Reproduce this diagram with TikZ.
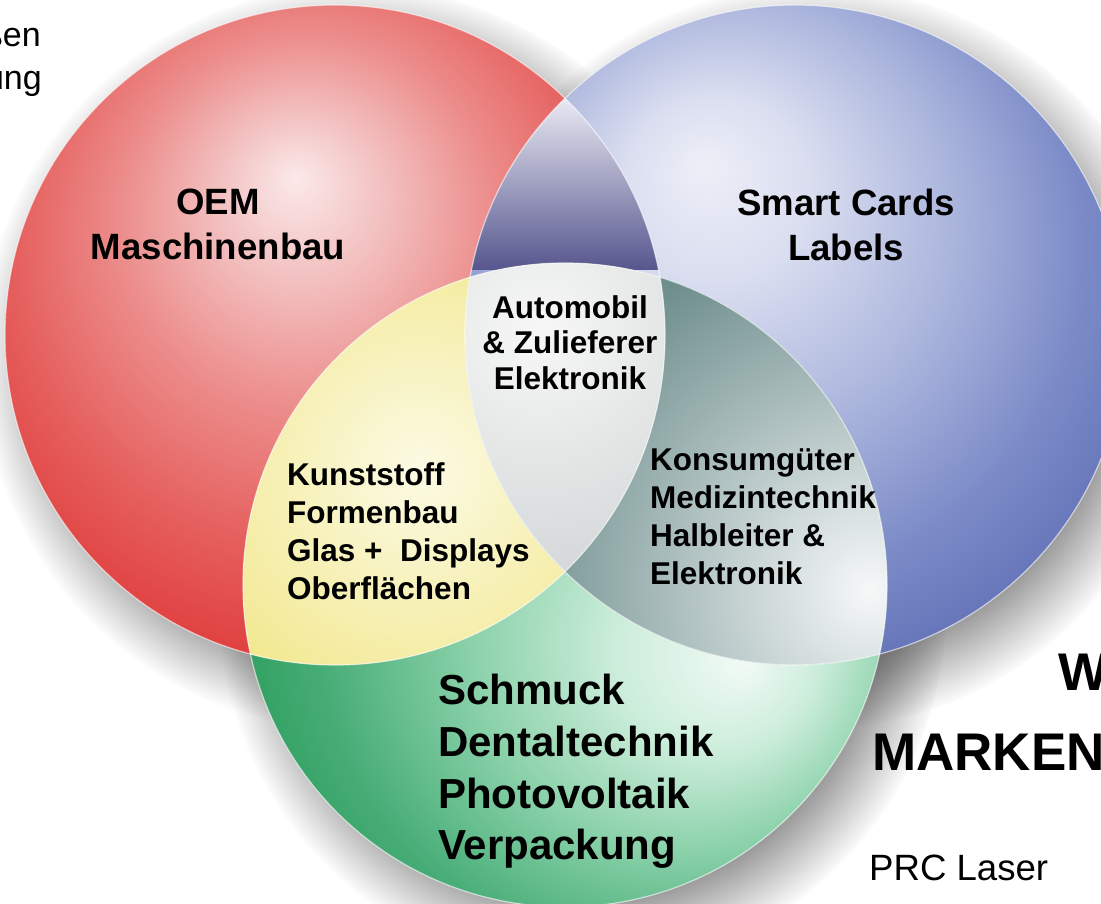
\documentclass[tikz,border=0pt]{standalone}
\usepackage{fontspec}
\setmainfont{Liberation Sans}
\usetikzlibrary{fadings}

\newcommand{\ringradius}{330pt}
\newcommand{\greenradius}{322pt}

% circle colours
\definecolor{redhi}{HTML}{FBE9E9}
\definecolor{redpale}{HTML}{F3C2C2}
\definecolor{redmid}{HTML}{EC8E8C}
\definecolor{reddeep}{HTML}{E55E5C}
\definecolor{redrim}{HTML}{DE3636}
\definecolor{bluehi}{HTML}{EDEFF7}
\definecolor{bluepale}{HTML}{DADEF0}
\definecolor{bluemid}{HTML}{AEB8DE}
\definecolor{bluedeep}{HTML}{7D8CC8}
\definecolor{bluerim}{HTML}{5566AE}
\definecolor{greenhi}{HTML}{F2FAF6}
\definecolor{greenpale}{HTML}{CBEDDA}
\definecolor{greenmid}{HTML}{88D0A8}
\definecolor{greendeep}{HTML}{46AC76}
\definecolor{greenrim}{HTML}{1A9448}
% overlap colours
\definecolor{lenstop}{HTML}{F0F0F8}
\definecolor{lensmid}{HTML}{A8A8D0}
\definecolor{lensbottom}{HTML}{56568E}
\definecolor{yellowin}{HTML}{FCFAE4}
\definecolor{yellowout}{HTML}{F2E88E}
\definecolor{tealin}{HTML}{F6F8F8}
\definecolor{tealout}{HTML}{6F8F8E}
\definecolor{corein}{HTML}{F7F7F7}
\definecolor{coreout}{HTML}{CDD2D2}

\pgfdeclareradialshading{redball}{\pgfpoint{-3bp}{12bp}}{%
  color(0bp)=(redhi); color(6bp)=(redpale); color(14bp)=(redmid);
  color(23bp)=(reddeep); color(32bp)=(redrim); color(50bp)=(redrim)}
\pgfdeclareradialshading{blueball}{\pgfpoint{-7bp}{13bp}}{%
  color(0bp)=(bluehi); color(7bp)=(bluepale); color(16bp)=(bluemid);
  color(25bp)=(bluedeep); color(35bp)=(bluerim); color(50bp)=(bluerim)}
\pgfdeclareradialshading{greenball}{\pgfpoint{14bp}{-6bp}}{%
  color(0bp)=(greenhi); color(8bp)=(greenpale); color(17bp)=(greenmid);
  color(26bp)=(greendeep); color(36bp)=(greenrim); color(50bp)=(greenrim)}

\tikzstyle{dropshadow} = [% soft shadow under a circle
  fill=black!80,
  fill opacity=0.5,
  path fading=circle with fuzzy edge 20 percent
  ]
\tikzstyle{seam} = [% light rim between the areas
  draw=white,
  line width=1.2pt,
  draw opacity=0.6
  ]
\tikzstyle{titletext} = [% circle titles
  font=\bfseries\fontsize{36.6}{45}\selectfont,
  align=center,
  inner sep=0pt,
  anchor=north
  ]
\tikzstyle{coretext} = [% centre area
  font=\bfseries\fontsize{31.5}{35.5}\selectfont,
  align=center,
  inner sep=0pt,
  anchor=north
  ]
\tikzstyle{overlaptext} = [% two-circle areas
  font=\bfseries\fontsize{31.5}{38}\selectfont,
  align=left,
  inner sep=0pt,
  anchor=north west
  ]
\tikzstyle{greentext} = [% green circle list
  font=\bfseries\fontsize{42}{51.7}\selectfont,
  align=left,
  inner sep=0pt,
  anchor=north west
  ]
\tikzstyle{sidetext} = [% cut-off heading on the right
  font=\bfseries\fontsize{53}{64}\selectfont,
  inner sep=0pt,
  anchor=base west
  ]
\tikzstyle{plaintext} = [% regular text
  font=\fontsize{36.6}{43}\selectfont,
  inner sep=0pt
  ]
\tikzstyle{edgetext} = [% cut-off lines top left
  font=\fontsize{34}{43}\selectfont,
  inner sep=0pt,
  anchor=base east
  ]

\begin{document}
\begin{tikzpicture}[x=1pt, y=-1pt]

%%% Canvas
\useasboundingbox (0,0) rectangle (1101,904);
\clip (0,0) rectangle (1101,904);
\fill[white] (0,0) rectangle (1101,904);

\coordinate (redc) at (335,335);
\coordinate (bluec) at (795,335);
\coordinate (greenc) at (565,585);

%%% Shadows
\fill[dropshadow] ([shift={(18,22)}]redc) circle (372pt);
\fill[dropshadow] ([shift={(18,22)}]bluec) circle (372pt);
\fill[dropshadow] ([shift={(18,22)}]greenc) circle (364pt);

%%% Circles
\shade[shading=redball] (redc) circle (\ringradius);
\shade[shading=blueball] (bluec) circle (\ringradius);
\shade[shading=greenball] (greenc) circle (\greenradius);

%%% Overlaps
\begin{scope}
  \clip (redc) circle (\ringradius);
  \clip (bluec) circle (\ringradius);
  \shade[top color=lenstop, middle color=lensmid, bottom color=lensbottom] (460,90) rectangle (670,270);
\end{scope}
\begin{scope}
  \clip (redc) circle (\ringradius);
  \clip (greenc) circle (\greenradius);
  \fill[yellowout] (0,0) rectangle (1101,904);
  \shade[inner color=yellowin, outer color=yellowout] (420,470) circle (260pt);
\end{scope}
\begin{scope}
  \clip (bluec) circle (\ringradius);
  \clip (greenc) circle (\greenradius);
  \fill[tealout] (0,0) rectangle (1101,904);
  \shade[inner color=tealin, outer color=tealout] (870,590) circle (360pt);
\end{scope}
\begin{scope}
  \clip (redc) circle (\ringradius);
  \clip (bluec) circle (\ringradius);
  \clip (greenc) circle (\greenradius);
  \fill[coreout] (0,0) rectangle (1101,904);
  \shade[inner color=corein, outer color=coreout] (540,330) circle (290pt);
\end{scope}

\draw[seam] (redc) circle (\ringradius);
\draw[seam] (bluec) circle (\ringradius);
\draw[seam] (greenc) circle (\greenradius);

%%% Nodes
\node[titletext] (oem) at (218,189) {OEM\\Maschinenbau};
\node[titletext] (cards) at (846,189) {Smart Cards\\Labels};
\node[coretext] (auto) at (570,295) {Automobil\\\& Zulieferer\\Elektronik};
\node[overlaptext] (kunst) at (287,462) {Kunststoff\\Formenbau\\Glas +\ \ Displays\\Oberflächen};
\node[overlaptext] (konsum) at (650,448) {Konsumgüter\\Medizintechnik\\Halbleiter \&\\Elektronik};
\node[greentext] (schmuck) at (438,674) {Schmuck\\Dentaltechnik\\Photovoltaik\\Verpackung};
\node[sidetext] (w) at (1058,690) {W};
\node[sidetext] (marken) at (872,770) {MARKEN};
\node[plaintext, anchor=base west] (prc) at (869,880) {PRC Laser};
\node[edgetext] (sen) at (41,47) {ßen};
\node[edgetext] (ung) at (42,90) {ung};

\end{tikzpicture}
\end{document}
